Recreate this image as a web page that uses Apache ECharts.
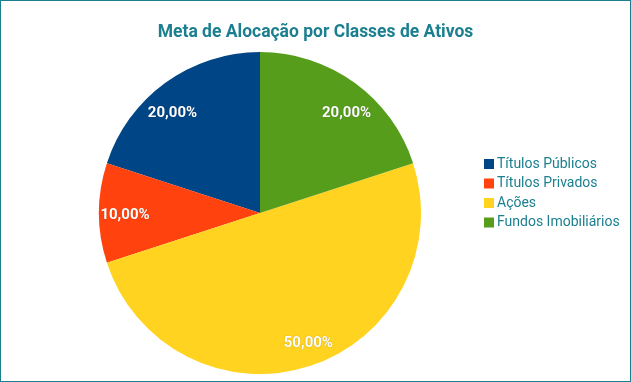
<!DOCTYPE html>
<html>
<head>
<meta charset="utf-8">
<script src="https://cdn.jsdelivr.net/npm/echarts@6/dist/echarts.min.js"></script>
<style>
html,body{margin:0;padding:0;background:#fff;}
#c{width:631px;height:382px;box-sizing:border-box;border:1px solid #1b7f8f;}
</style>
</head>
<body>
<div id="c"></div>
<script>
const categories = ['Títulos Públicos', 'Títulos Privados', 'Ações', 'Fundos Imobiliários'];
const values = [20, 10, 50, 20];
const colors = ['#004586', '#ff420e', '#ffd320', '#579d1c'];
const labelOffsets = [[-7, 11], [2, 2], [6, 0], [6, 11]];
const titleText = 'Meta de Alocação por Classes de Ativos';

const data = categories.map((n, i) => ({ name: n, value: values[i], itemStyle: { color: colors[i] } }));
const fmt = p => p.value.toFixed(2).replace('.', ',') + '%';

const chart = echarts.init(document.getElementById('c'), null, { renderer: 'canvas' });
chart.setOption({
  animation: false,
  title: {
    text: titleText, left: 'center', top: 18,
    textStyle: { fontFamily: 'Roboto', fontWeight: 'bold', fontSize: 17.5, color: '#1b7f8f' }
  },
  legend: {
    orient: 'vertical', left: 478, top: 151,
    itemWidth: 10, itemHeight: 10, itemGap: 5.5,
    icon: 'rect',
    data: categories,
    textStyle: { fontFamily: 'Roboto', fontSize: 14, color: '#1b7f8f', padding: [0, 0, 0, -2] }
  },
  series: [
    {
      type: 'pie', center: [259, 212], radius: [0, 161],
      startAngle: 90, clockwise: false,
      data: data, label: { show: false }, labelLine: { show: false },
      silent: true
    },
    {
      type: 'pie', center: [259, 212], radius: [107, 161],
      startAngle: 90, clockwise: false, silent: true,
      data: categories.map((n, i) => ({
        name: n, value: values[i],
        itemStyle: { color: 'rgba(0,0,0,0)' },
        label: { offset: labelOffsets[i] }
      })),
      label: {
        show: true, position: 'inside', formatter: fmt,
        fontFamily: 'Roboto', fontWeight: 'bold', fontSize: 15, color: '#fff',
        textShadowColor: 'rgba(0,0,0,0.35)', textShadowBlur: 1
      },
      labelLine: { show: false }
    }
  ]
});
</script>
</body>
</html>
